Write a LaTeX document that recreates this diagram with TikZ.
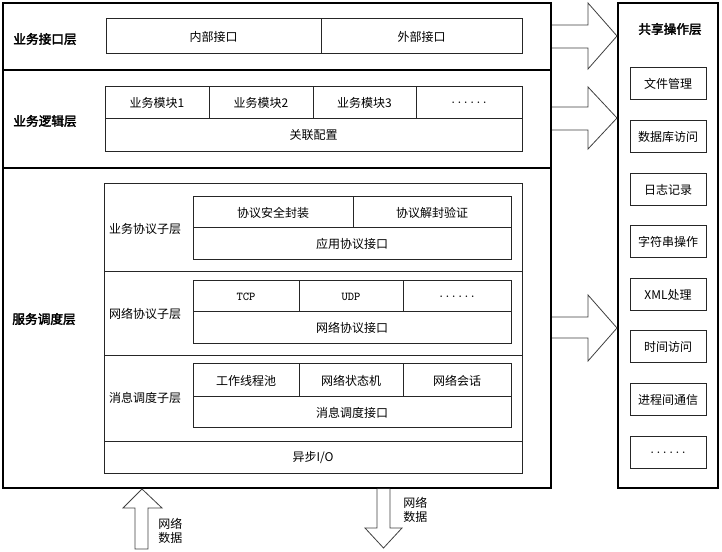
\documentclass[tikz,border=0pt]{standalone}
\usepackage{fontspec}
\setmainfont{Noto Sans CJK SC}[AutoFakeBold=2.5]
\usetikzlibrary{fit}
\tikzset{
  txt/.style={font=\fontsize{9pt}{11pt}\selectfont},
  frame/.style={draw=black, line width=1.9pt, inner sep=0pt},
  cell/.style={draw=black!85, line width=0.75pt, inner sep=0pt},
  ct/.style={label={[txt]center:#1}},
  cm/.style={label={[font=\ttfamily\fontsize{9pt}{10pt}\selectfont]center:#1}},
  layerlabel/.style={font=\fontsize{9.5pt}{11pt}\selectfont\bfseries},
  bigarrow/.style={draw=black!75, line width=0.6pt, fill=white, line join=miter},
}
\begin{document}
\begin{tikzpicture}[x=0.75pt,y=-0.75pt]
\useasboundingbox (0,0) rectangle (722,552);

% main layers
\node[frame, fit={(3,3)(551,70)}] (L1) {};
\node[frame, fit={(3,70)(551,168)}] (L2) {};
\node[frame, fit={(3,168)(551,488)}] (L3) {};
\node[layerlabel] (L1t) at (45,39) {业务接口层};
\node[layerlabel] (L2t) at (45,121) {业务逻辑层};
\node[layerlabel] (L3t) at (44,319) {服务调度层};

% layer 1
\node[cell, fit={(106,19)(321,54)}, ct=内部接口] (nbjk) {};
\node[cell, fit={(321,19)(522,54)}, ct=外部接口] (wbjk) {};

% layer 2
\node[cell, fit={(105,87)(209,119)}, ct=业务模块1] (m1) {};
\node[cell, fit={(209,87)(313,119)}, ct=业务模块2] (m2) {};
\node[cell, fit={(313,87)(416,119)}, ct=业务模块3] (m3) {};
\node[cell, fit={(416,87)(522,119)}, cm=......] (m4) {};
\node[cell, fit={(105,119)(522,152)}, ct=关联配置] (glpz) {};

% layer 3 sublayers
\node[cell, fit={(104,184)(522,272)}] (S1) {};
\node[cell, fit={(104,272)(522,356)}] (S2) {};
\node[cell, fit={(104,356)(522,442)}] (S3) {};
\node[cell, fit={(104,442)(522,474)}, ct=异步I/O] (aio) {};

\node[txt] (S1t) at (145,229) {业务协议子层};
\node[txt] (S2t) at (145,314) {网络协议子层};
\node[txt] (S3t) at (145,398) {消息调度子层};

\node[cell, fit={(193,197)(353,228)}, ct=协议安全封装] (a1) {};
\node[cell, fit={(353,197)(511,228)}, ct=协议解封验证] (a2) {};
\node[cell, fit={(193,228)(511,260)}, ct=应用协议接口] (a3) {};

\node[cell, fit={(193,281)(299,312)}, cm=TCP] (b1) {};
\node[cell, fit={(299,281)(403,312)}, cm=UDP] (b2) {};
\node[cell, fit={(403,281)(511,312)}, cm=......] (b3) {};
\node[cell, fit={(193,312)(511,344)}, ct=网络协议接口] (b4) {};

\node[cell, fit={(193,364)(299,397)}, ct=工作线程池] (c1) {};
\node[cell, fit={(299,364)(403,397)}, ct=网络状态机] (c2) {};
\node[cell, fit={(403,364)(511,397)}, ct=网络会话] (c3) {};
\node[cell, fit={(193,397)(511,428)}, ct=消息调度接口] (c4) {};

% shared operation layer
\node[frame, fit={(618,3)(718,488)}] (R) {};
\node[layerlabel] (Rt) at (670,29) {共享操作层};
\node[cell, fit={(630,68)(706,100)}, ct=文件管理] (r1) {};
\node[cell, fit={(630,121)(706,153)}, ct=数据库访问] (r2) {};
\node[cell, fit={(630,174)(706,206)}, ct=日志记录] (r3) {};
\node[cell, fit={(630,226)(706,258)}, ct=字符串操作] (r4) {};
\node[cell, fit={(630,279)(706,311)}, ct=XML处理] (r5) {};
\node[cell, fit={(630,331)(706,363)}, ct=时间访问] (r6) {};
\node[cell, fit={(630,384)(706,416)}, ct=进程间通信] (r7) {};
\node[cell, fit={(630,437)(706,469)}, cm=......] (r8) {};

% right arrows
\draw[bigarrow] (552,25) -- (588,25) -- (588,3) -- (617,36) -- (588,69) -- (588,48) -- (552,48);
\draw[bigarrow] (552,107) -- (588,107) -- (588,87) -- (617,118) -- (588,149) -- (588,130) -- (552,130);
\draw[bigarrow] (552,317) -- (588,317) -- (588,295) -- (617,328) -- (588,361) -- (588,338) -- (552,338);

% bottom arrows
\draw[bigarrow] (135,549) -- (135,508) -- (123,508) -- (142,489) -- (162,508) -- (148,508) -- (148,549) -- cycle;
\draw[bigarrow] (377,489) -- (377,528) -- (365,528) -- (383.5,548) -- (402,528) -- (390,528) -- (390,489);

\node[txt, align=left, anchor=west, inner sep=0pt] (inlab) at (158,531) {网络\\数据};
\node[txt, align=left, anchor=west, inner sep=0pt] (outlab) at (403,510) {网络\\数据};
\end{tikzpicture}
\end{document}
